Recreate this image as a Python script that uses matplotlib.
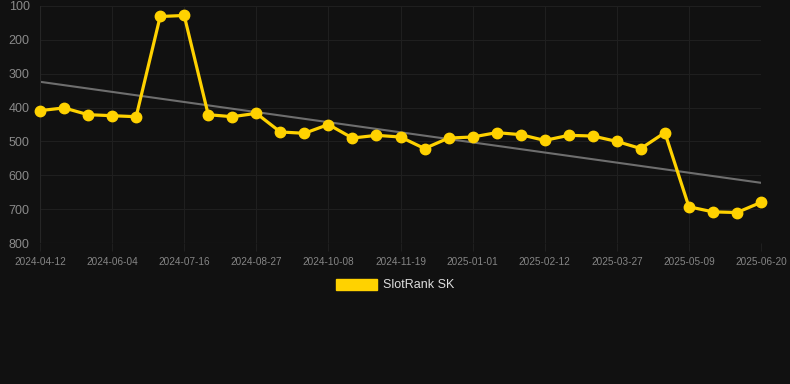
import numpy as np
import matplotlib.pyplot as plt

# rank values, one point every ~2 weeks (lower rank = better, axis inverted)
rank = [409, 401, 421, 424, 427, 131, 128, 421, 427, 417,
        472, 476, 450, 490, 482, 487, 521, 490, 487, 474,
        480, 497, 482, 484, 500, 521, 474, 693, 708, 710, 680]
tick_labels = ["2024-04-12", "2024-06-04", "2024-07-16", "2024-08-27",
               "2024-10-08", "2024-11-19", "2025-01-01", "2025-02-12",
               "2025-03-27", "2025-05-09", "2025-06-20"]
series_name = "SlotRank SK"

bg = "#111111"
yellow = "#FFD200"
grid_col = "#1f1f1f"

plt.rcParams['font.family'] = ['Liberation Sans', 'DejaVu Sans']

fig = plt.figure(figsize=(7.9, 3.84), dpi=100, facecolor=bg)
ax = fig.add_axes([40/790, 1 - 243/384, 721/790, 237/384], facecolor=bg)

x = np.arange(len(rank))

# trend line (least squares fit of the rank series)
k, b = np.polyfit(x, rank, 1)
ax.plot(x, k * x + b, color="#6e6e6e", lw=1.5, zorder=2)

ax.plot(x, rank, color=yellow, lw=2.3, marker="o", markersize=7.5,
        zorder=3, label=series_name, clip_on=False)

ax.set_xlim(0, len(rank) - 1)
ax.set_ylim(800, 100)
ax.set_yticks(range(100, 900, 100))
ax.set_xticks(x[::3])
ax.set_xticklabels(tick_labels)

ax.grid(True, color=grid_col, lw=0.8)
for s in ax.spines.values():
    s.set_visible(False)
ax.tick_params(axis="y", colors=grid_col, labelcolor="#8a8a8a", labelsize=9, length=0, pad=7.5)
ax.tick_params(axis="x", colors=grid_col, labelcolor="#858585", labelsize=7.2, length=6, pad=4)
ax.axvline(0, color="#262626", lw=0.8)
ax.axhline(800, color="#262626", lw=0.8)

handle = plt.Rectangle((0, 0), 1, 1, color=yellow)
leg = fig.legend([handle], [series_name], loc="center", bbox_to_anchor=(0.5, 1 - 285/384),
                 frameon=False, fontsize=9, labelcolor="#dddddd",
                 handlelength=3.3, handleheight=1.0, handletextpad=0.5)

fig.savefig("out.png", dpi=100, facecolor=bg)
